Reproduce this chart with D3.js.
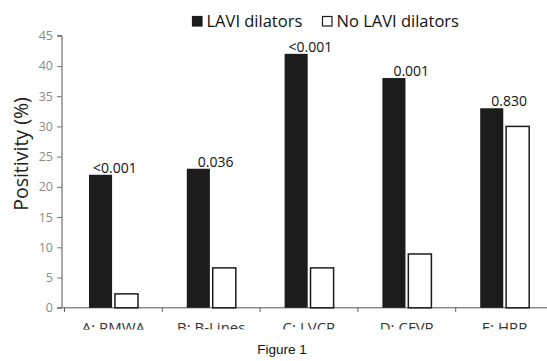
<!DOCTYPE html>
<html>
<head>
<meta charset="utf-8">
<script src="https://cdn.jsdelivr.net/npm/d3@7"></script>
<style>
  body { margin: 0; background: #fff; }
  svg { display: block; }
</style>
</head>
<body>
<svg id="chart" width="547" height="361"></svg>
<script>
// data
var categories = ["A: RMWA", "B: B-Lines", "C: LVCR", "D: CFVR", "E: HRR"];
var laviDilators = [22, 23, 42, 38, 33];
var noLaviDilators = [2.3, 6.6, 6.6, 8.9, 30];
var pValues = ["<0.001", "0.036", "<0.001", "0.001", "0.830"];
var seriesNames = ["LAVI dilators", "No LAVI dilators"];
var yTicks = [0, 5, 10, 15, 20, 25, 30, 35, 40, 45];

var svg = d3.select("#chart");
var margin = {top: 36, left: 62, bottom: 53};

var x = d3.scaleBand()
  .domain(categories)
  .range([64.5, 64.5 + 97.8 * categories.length]);

var inner = d3.scaleBand()
  .domain([0, 1])
  .range([24.5, 73.5])
  .paddingInner(0.11);

var y = d3.scaleLinear()
  .domain([0, 45])
  .range([307.8, 35.7]);

var font = "'Open Sans', sans-serif";

// clip so the category labels get cut like in the original
svg.append("defs").append("clipPath")
  .attr("id", "clip")
  .append("rect")
  .attr("x", 0).attr("y", 0)
  .attr("width", 547).attr("height", 329.5);

var plot = svg.append("g").attr("clip-path", "url(#clip)");

// y axis
var yAxis = d3.axisLeft(y)
  .tickValues(yTicks)
  .tickSize(5)
  .tickPadding(4);

var gy = plot.append("g")
  .attr("transform", "translate(" + margin.left + ",0)")
  .call(yAxis);
gy.select(".domain").attr("stroke", "#555").attr("d", "M-5," + y(45) + "H0V" + y(0) + "H-5");
gy.selectAll(".tick line").attr("stroke", "#777");
gy.selectAll(".tick text")
  .attr("fill", "#8a8a8a")
  .attr("font-size", 12.5)
  .attr("font-family", font);

// x axis with separators between categories
var xAxisLine = plot.append("g");
xAxisLine.append("line")
  .attr("x1", margin.left).attr("x2", 547)
  .attr("y1", y(0)).attr("y2", y(0))
  .attr("stroke", "#555");
var seps = categories.map(function(c) { return x(c); });
xAxisLine.selectAll(".sep")
  .data(seps)
  .enter().append("line")
  .attr("x1", d => d).attr("x2", d => d)
  .attr("y1", y(0)).attr("y2", y(0) + 4)
  .attr("stroke", "#555");

xAxisLine.selectAll(".cat")
  .data(categories)
  .enter().append("text")
  .attr("x", d => x(d) + x.bandwidth() / 2)
  .attr("y", 332.5)
  .attr("text-anchor", "middle")
  .attr("font-size", 15)
  .attr("font-family", font)
  .attr("fill", "#333")
  .text(d => d);

// bars
var groups = plot.selectAll(".grp")
  .data(categories)
  .enter().append("g")
  .attr("transform", d => "translate(" + x(d) + ",0)");

groups.append("rect")
  .attr("x", inner(0))
  .attr("width", inner.bandwidth())
  .attr("y", (d, i) => y(laviDilators[i]))
  .attr("height", (d, i) => y(0) - y(laviDilators[i]))
  .attr("fill", "#1c1c1c");

groups.append("rect")
  .attr("x", inner(1))
  .attr("width", inner.bandwidth())
  .attr("y", (d, i) => y(noLaviDilators[i]))
  .attr("height", (d, i) => y(0) - y(noLaviDilators[i]))
  .attr("fill", "#fff")
  .attr("stroke", "#1c1c1c")
  .attr("stroke-width", 1.5);

groups.append("text")
  .attr("x", (d, i) => inner(0) + (pValues[i][0] === "<" ? 4 : 11))
  .attr("y", (d, i) => y(laviDilators[i]) - 2)
  .attr("font-size", 14)
  .attr("font-family", font)
  .attr("fill", "#111")
  .text((d, i) => pValues[i]);

// y title
svg.append("text")
  .attr("transform", "translate(28,154) rotate(-90)")
  .attr("text-anchor", "middle")
  .attr("font-size", 19.5)
  .attr("font-family", font)
  .attr("fill", "#222")
  .text("Positivity (%)");

// legend
var legend = svg.append("g").attr("transform", "translate(192,16)");
var legendX = [0, 130];
legend.selectAll("g")
  .data(seriesNames)
  .enter().append("g")
  .attr("transform", (d, i) => "translate(" + legendX[i] + ",0)")
  .each(function(d, i) {
    var g = d3.select(this);
    g.append("rect")
      .attr("x", 0.5).attr("y", 0.5)
      .attr("width", 9.5).attr("height", 9.5)
      .attr("fill", i == 0 ? "#1c1c1c" : "#fff")
      .attr("stroke", "#1c1c1c")
      .attr("stroke-width", 1.2);
    g.append("text")
      .attr("x", 14.5)
      .attr("y", 10.5)
      .attr("font-size", 16.5)
      .attr("font-family", font)
      .attr("fill", "#111")
      .text(d);
  });

// caption
svg.append("text")
  .attr("x", 282)
  .attr("y", 354)
  .attr("text-anchor", "middle")
  .attr("font-size", 13.5)
  .attr("font-family", "Arial, 'Liberation Sans', sans-serif")
  .attr("fill", "#111")
  .text("Figure 1");
</script>
</body>
</html>
